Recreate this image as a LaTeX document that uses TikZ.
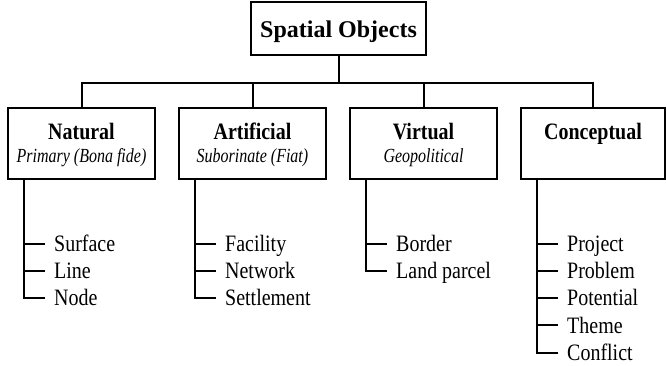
\documentclass[tikz,border=0pt]{standalone}
\usepackage{fontspec}
\setmainfont{Liberation Serif}
\newfontfamily\narrowserif[FakeStretch=0.85]{Liberation Serif}
\newfontfamily\narrowital[FakeStretch=0.8]{Liberation Serif}

\begin{document}
\begin{tikzpicture}[x=1pt,y=1pt,
  frame/.style={draw, line width=2pt, inner sep=0pt},
  catbox/.style={frame, minimum width=147pt, minimum height=71pt},
  wire/.style={line width=2pt},
  leaf/.style={anchor=west, font=\narrowserif\fontsize{23.5}{26}\selectfont,
    text height=15.6pt, text depth=0pt, inner ysep=0pt, inner xsep=9pt},
  cattitle/.style={anchor=base, inner sep=0pt,
    font=\narrowserif\bfseries\fontsize{23.5}{26}\selectfont},
  catsub/.style={anchor=base, inner sep=0pt,
    font=\narrowital\itshape\fontsize{20}{24}\selectfont}]
\useasboundingbox (0,0) rectangle (667,-365);

% root
\node[frame, minimum width=175pt, minimum height=53pt] (root) at (338.5,-28.5) {};
\node[anchor=base, inner sep=0pt, font=\bfseries\fontsize{24}{28}\selectfont]
  (rootlabel) at (338.5,-37) {Spatial Objects};

% categories
\node[catbox] (nat) at (81.5,-143.5) {};
\node[catbox] (art) at (252.5,-143.5) {};
\node[catbox] (vir) at (423.5,-143.5) {};
\node[catbox, minimum width=144pt] (con) at (593,-143.5) {};

\node[cattitle] (natT) at (81.5,-139) {Natural};
\node[catsub]   (natS) at (81.5,-162) {Primary (Bona fide)};
\node[cattitle] (artT) at (252.5,-139) {Artificial};
\node[catsub]   (artS) at (252.5,-162) {Suborinate (Fiat)};
\node[cattitle] (virT) at (423.5,-139) {Virtual};
\node[catsub]   (virS) at (423.5,-162) {Geopolitical};
\node[cattitle] (conT) at (593,-139) {Conceptual};

% bus from root to categories
\foreach \c in {nat,art,vir,con}
  \draw[wire] (root.south) -- ++(0,-27) -| (\c.north);

% leaves
\node[leaf] (n1) at (45,-243.5) {Surface};
\node[leaf] (n2) at (45,-270.8) {Line};
\node[leaf] (n3) at (45,-298.1) {Node};

\node[leaf] (a1) at (216,-243.5) {Facility};
\node[leaf] (a2) at (216,-270.8) {Network};
\node[leaf] (a3) at (216,-298.1) {Settlement};

\node[leaf] (v1) at (387,-243.5) {Border};
\node[leaf] (v2) at (387,-270.8) {Land parcel};

\node[leaf] (c1) at (558,-243.5) {Project};
\node[leaf] (c2) at (558,-270.8) {Problem};
\node[leaf] (c3) at (558,-298.1) {Potential};
\node[leaf] (c4) at (558,-325.4) {Theme};
\node[leaf] (c5) at (558,-352.7) {Conflict};

\foreach \l in {n1,n2,n3}
  \draw[wire] ([xshift=17pt]nat.south west) |- (\l.west);
\foreach \l in {a1,a2,a3}
  \draw[wire] ([xshift=17pt]art.south west) |- (\l.west);
\foreach \l in {v1,v2}
  \draw[wire] ([xshift=17pt]vir.south west) |- (\l.west);
\foreach \l in {c1,c2,c3,c4,c5}
  \draw[wire] ([xshift=17pt]con.south west) |- (\l.west);
\end{tikzpicture}
\end{document}
